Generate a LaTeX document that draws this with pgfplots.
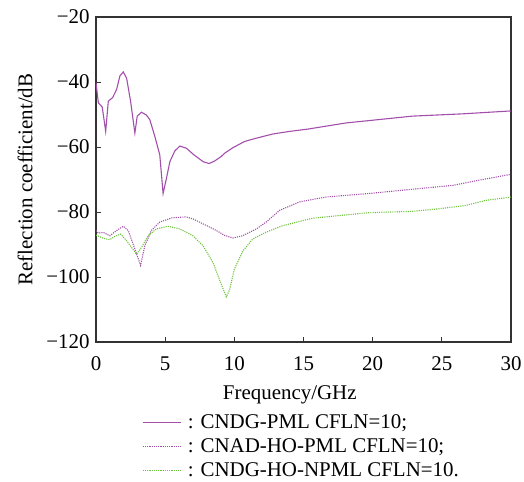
\documentclass[border=0pt]{standalone}
\usepackage{fontspec}
\setmainfont{Liberation Serif}
\usepackage{pgfplots}
\pgfplotsset{compat=1.18}

\definecolor{cpurple}{HTML}{A24FAA}
\definecolor{cgreen}{HTML}{6CC23A}

\begin{document}
\begin{tikzpicture}[font=\fontsize{21}{24}\selectfont]
% page frame matching the reference (axis lower-left corner at the origin)
\path[use as bounding box] (-96bp,-140bp) rectangle (428bp,342bp);
\begin{axis}[
  at={(0,0)}, anchor=south west,
  width=415bp, height=325bp, scale only axis,
  xmin=0, xmax=30, ymin=-120, ymax=-20,
  xtick={0,5,...,30},
  ytick={-120,-100,-80,-60,-40,-20},
  yticklabels={−120,−100,−80,−60,−40,−20},
  tick pos=left, tick align=inside,
  major tick length=5bp,
  axis line style={black!80, line width=1.2bp},
  every tick/.style={black!80, line width=0.9bp},
  /pgf/number format/assume math mode=true,
  xticklabel style={yshift=-11bp},
  yticklabel style={xshift=-3bp},
  xlabel={Frequency/GHz},
  ylabel={Reflection coefficient/dB},
  xlabel style={at={(axis description cs:0.467,0)}, anchor=north, yshift=-40.5bp},
  ylabel style={at={(axis description cs:-0.171,0.5)}, anchor=center},
  legend cell align=left,
  legend style={draw=none, fill=none, at={(axis description cs:0.111,-0.218)}, anchor=north west,
    row sep=4.5bp, column sep=4.5bp, inner sep=0pt,
    font=\fontsize{21}{24}\selectfont},
  legend image code/.code={\draw[#1] (0bp,0bp) -- (38bp,0bp);},
]
\addplot[cpurple, line width=1.1bp] coordinates {
(0,-40.2) (0.17,-46.4) (0.45,-47.7) (0.7,-55.2) (0.89,-45.9) (1.2,-44.8) (1.49,-42.3)
(1.73,-38.1) (1.97,-36.9) (2.21,-38.8) (2.5,-45.9) (2.81,-55.7) (2.98,-50.5) (3.29,-49.3)
(3.65,-50.2) (3.89,-51.6) (4.25,-56.7) (4.61,-62.4) (4.85,-74.3) (5.09,-69.7) (5.34,-64.5)
(5.7,-61.2) (6.06,-59.7) (6.54,-60.4) (7.02,-62.2) (7.74,-64.5) (8.17,-65.1) (8.58,-64.3)
(9.06,-62.9) (9.3,-61.9) (9.9,-60.2) (10.74,-58.3) (11.58,-57.3) (12.78,-56.0) (13.99,-55.2)
(15.3,-54.5) (18.07,-52.6) (22.88,-50.5) (26.5,-49.8) (30,-48.9)
};
\addlegendentry{: CNDG-PML CFLN=10;}
\addplot[cpurple, line width=1.1bp, dash pattern=on 1.1bp off 1.1bp] coordinates {
(0,-85.7) (0.17,-86.5) (0.53,-86.3) (1.0,-87.3) (1.49,-85.7) (1.97,-84.4) (2.33,-85.7)
(2.81,-91.4) (3.22,-96.4) (3.53,-90.4) (4.0,-85.7) (4.61,-83.1) (5.5,-81.8) (6.5,-81.5)
(7.0,-82.1) (8.0,-84.2) (8.7,-85.7) (9.3,-87.2) (9.9,-88.0) (10.6,-87.3) (11.6,-85.2)
(12.3,-83.1) (13.27,-79.5) (14.7,-76.9) (16.6,-75.4) (19.75,-74.3) (22.88,-73.0)
(25.8,-71.8) (27.7,-70.2) (30,-68.4)
};
\addlegendentry{: CNAD-HO-PML CFLN=10;}
\addplot[cgreen, line width=1.1bp, dash pattern=on 1.1bp off 1.1bp] coordinates {
(0,-87.1) (0.53,-88.1) (1.0,-88.5) (1.37,-87.5) (1.78,-86.8) (2.21,-88.8) (2.57,-90.9)
(2.93,-93.0) (3.29,-90.9) (3.77,-87.3) (4.37,-85.2) (5.2,-84.4) (6.06,-85.2) (7.0,-87.3)
(7.74,-90.4) (8.46,-95.6) (9.06,-102.3) (9.42,-106.1) (9.66,-103.9) (10.0,-97.6)
(10.62,-92.0) (11.33,-88.3) (12.3,-86.2) (13.5,-84.2) (15.67,-81.9) (19.75,-80.2)
(22.88,-79.8) (24.8,-79.0) (26.7,-78.0) (28.2,-76.4) (30,-75.4)
};
\addlegendentry{: CNDG-HO-NPML CFLN=10.}
\end{axis}
\end{tikzpicture}
\end{document}
